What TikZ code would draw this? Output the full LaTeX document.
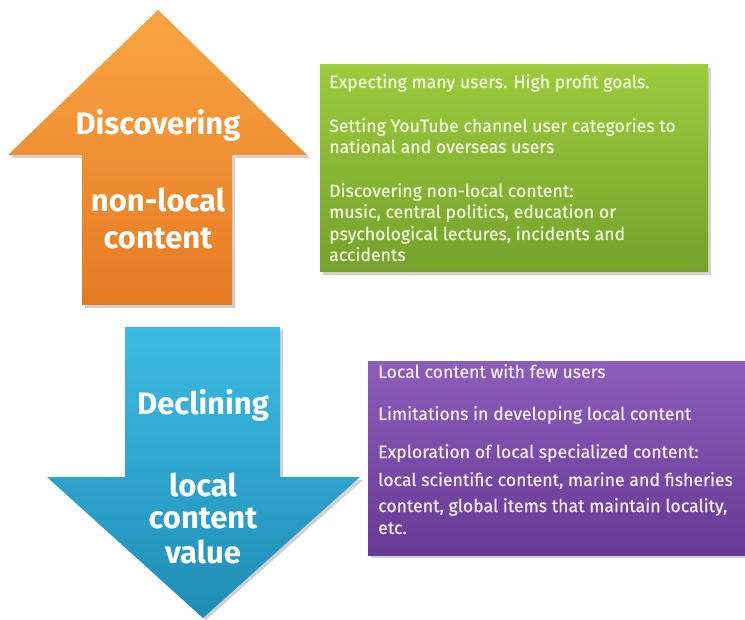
\documentclass[tikz,border=0pt]{standalone}
\usepackage{fontspec}
\setmainfont{Fira Sans}
\newfontfamily\boxfont[FakeBold=0.6]{Fira Sans}
\definecolor{orTop}{HTML}{F9A544}
\definecolor{orBot}{HTML}{E67A22}
\definecolor{blTop}{HTML}{3DBCE3}
\definecolor{blBot}{HTML}{1E8DB6}
\definecolor{grTop}{HTML}{9CCB3E}
\definecolor{grBot}{HTML}{74A22B}
\definecolor{puTop}{HTML}{8C5DBA}
\definecolor{puBot}{HTML}{673A96}
\definecolor{grText}{HTML}{F2F8DC}
\definecolor{puText}{HTML}{F4EEFA}
\tikzset{
  arrowtext/.style={text=white, font=\fontsize{31}{34}\selectfont\bfseries, align=center, inner sep=0pt},
  boxtext/.style={anchor=base west, inner sep=0pt, font=\fontsize{17.7}{21.5}\boxfont},
  shadowfill/.style={fill=black, opacity=0.18},
}
\begin{document}
\begin{tikzpicture}[x=1pt,y=-1pt]
\useasboundingbox (0,0) rectangle (745,620);
% up arrow
\fill[shadowfill] (161,13) -- (310,158) -- (235,158) -- (235,308) -- (85,308) -- (85,158) -- (11,158) -- cycle;
\shade[top color=orTop, bottom color=orBot] (158,10) -- (307,155) -- (232,155) -- (232,305) -- (82,305) -- (82,155) -- (8,155) -- cycle;
\node[arrowtext] (d1) at (158,125) {Discovering};
\node[arrowtext] (d2) at (158,200) {non-local};
\node[arrowtext] (d3) at (158,238) {content};
% green box
\fill[shadowfill] (323,68) rectangle (711,275);
\shade[top color=grTop, bottom color=grBot] (320,65) rectangle (708,272);
\node[boxtext, text=grText] (g1) at (329,88) {Expecting many users. High profit goals.};
\node[boxtext, text=grText] (g2) at (329,132) {Setting YouTube channel user categories to};
\node[boxtext, text=grText] (g3) at (329,153) {national and overseas users};
\node[boxtext, text=grText] (g4) at (329,197) {Discovering non-local content:};
\node[boxtext, text=grText] (g5) at (329,218) {music, central politics, education or};
\node[boxtext, text=grText] (g6) at (329,240) {psychological lectures, incidents and};
\node[boxtext, text=grText] (g7) at (329,261) {accidents};
% down arrow
\fill[shadowfill] (128,330) -- (283,330) -- (283,480) -- (363,480) -- (206,620) -- (50,480) -- (128,480) -- cycle;
\shade[top color=blTop, bottom color=blBot] (125,327) -- (280,327) -- (280,477) -- (360,477) -- (203,618) -- (47,477) -- (125,477) -- cycle;
\node[arrowtext] (e1) at (203,405) {Declining};
\node[arrowtext] (e2) at (203,485) {local};
\node[arrowtext] (e3) at (203,518) {content};
\node[arrowtext] (e4) at (203,552) {value};
% purple box
\fill[shadowfill] (371,365) rectangle (745,558);
\shade[top color=puTop, bottom color=puBot] (368,362) rectangle (745,555);
\node[boxtext, text=puText] (p1) at (378,378) {Local content with few users};
\node[boxtext, text=puText] (p2) at (378,420) {Limitations in developing local content};
\node[boxtext, text=puText] (p3) at (378,458) {Exploration of local specialized content:};
\node[boxtext, text=puText] (p4) at (378,486) {local scientific content, marine and fisheries};
\node[boxtext, text=puText] (p5) at (378,512) {content, global items that maintain locality,};
\node[boxtext, text=puText] (p6) at (378,534) {etc.};
\end{tikzpicture}
\end{document}
